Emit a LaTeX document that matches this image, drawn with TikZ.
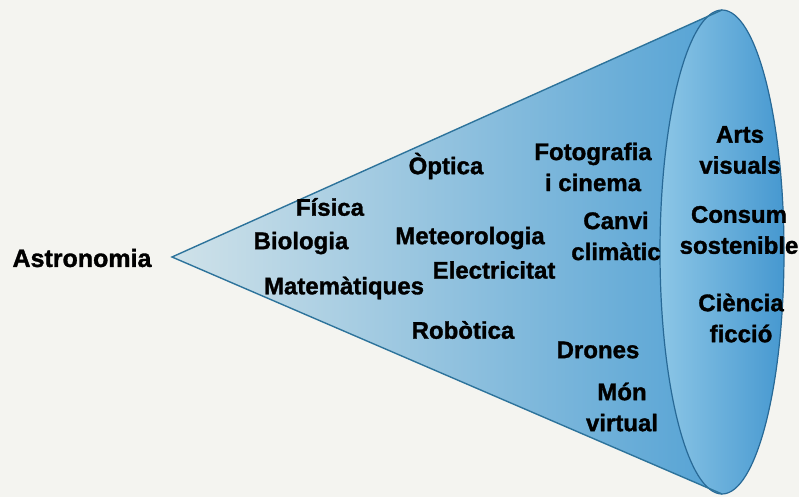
\documentclass[tikz,border=0pt]{standalone}
\usepackage{fontspec}
\setmainfont{Liberation Sans}
\newfontfamily\heavyfont{Liberation Sans Bold}[FakeBold=1.3]
\definecolor{bgc}{RGB}{244,244,240}
\definecolor{apexc}{RGB}{208,226,233}
\definecolor{conec}{RGB}{70,155,210}
\definecolor{edgec}{RGB}{45,115,155}
\definecolor{faceL}{RGB}{140,198,230}
\definecolor{faceR}{RGB}{70,152,208}
\definecolor{rimc}{RGB}{40,105,150}
\begin{document}
\begin{tikzpicture}[x=1pt,y=-1pt,
  lbl/.style={font=\heavyfont\fontsize{24}{31}\selectfont, text=black, align=center, inner sep=0pt}]
\useasboundingbox (0,0) rectangle (799,497);
\fill[bgc] (0,0) rectangle (799,497);
\coordinate (apex) at (172,257);
\coordinate (top) at (722,10);
\coordinate (bot) at (722,494);
\coordinate (ec) at (722,252);
% cone body
\shade[left color=apexc, right color=conec]
  (apex) -- (top) arc[start angle=-90, end angle=90, x radius=62, y radius=242] -- cycle;
% base face
\shade[left color=faceL, right color=faceR, draw=rimc, line width=1.2pt]
  (ec) ellipse[x radius=62, y radius=242];
% edges
\draw[edgec, line width=1.4pt, line join=miter] (top) -- (apex) -- (bot);
% labels
\node[lbl, font=\heavyfont\fontsize{25}{31}\selectfont] (astro) at (82,258) {Astronomia};
\node[lbl] (fis) at (330,207) {Física};
\node[lbl] (bio) at (301,243) {Biologia};
\node[lbl] (mat) at (344,288) {Matemàtiques};
\node[lbl] (opt) at (446,166) {Òptica};
\node[lbl] (foto) at (593,167) {Fotografia\\i cinema};
\node[lbl] (met) at (470,238) {Meteorologia};
\node[lbl] (ele) at (494,270) {Electricitat};
\node[lbl] (canvi) at (616,236) {Canvi\\climàtic};
\node[lbl] (rob) at (463,330) {Robòtica};
\node[lbl] (dron) at (598,350) {Drones};
\node[lbl] (mon) at (622,407) {Món\\virtual};
\node[lbl] (arts) at (740,150) {Arts\\visuals};
\node[lbl] (cons) at (739,230) {Consum\\sostenible};
\node[lbl] (cien) at (741,318) {Ciència\\ficció};
\end{tikzpicture}
\end{document}
